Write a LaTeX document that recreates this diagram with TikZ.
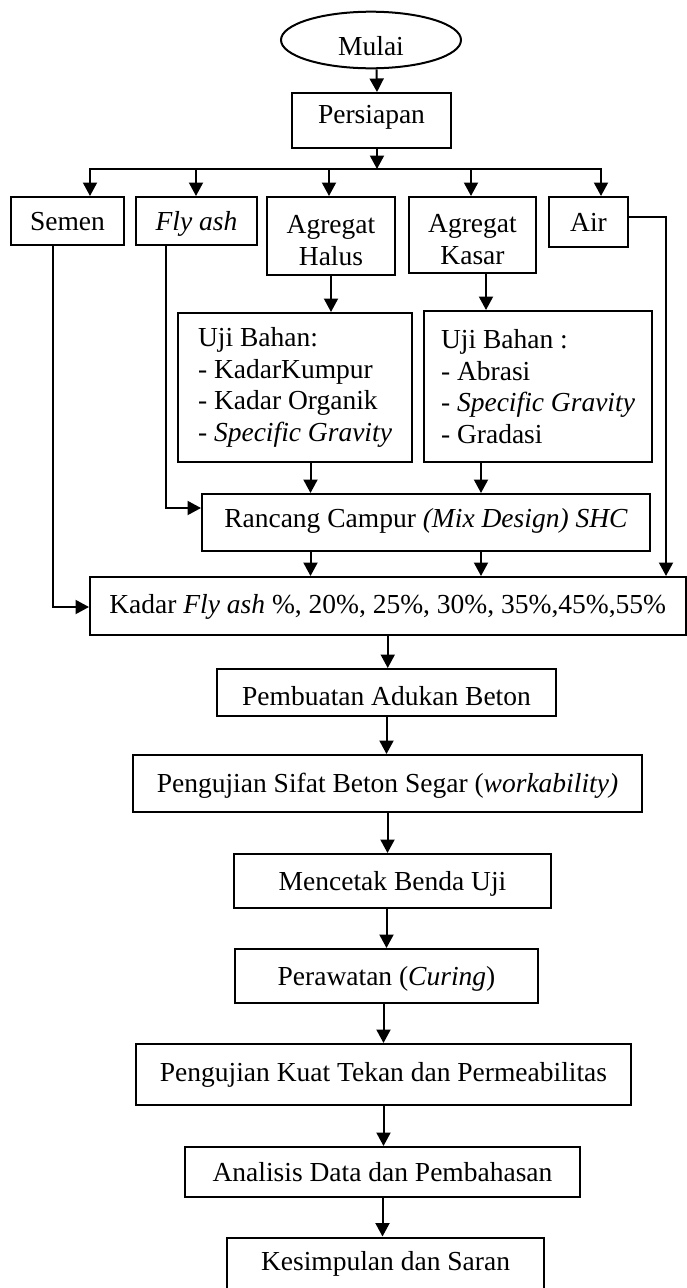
\documentclass[tikz,border=0pt]{standalone}
\usepackage{fontspec}
\setmainfont{Liberation Serif}
\usetikzlibrary{arrows.meta,shapes.geometric}
\begin{document}
\begin{tikzpicture}[x=1pt,y=-1pt,
  frame/.style={draw, line width=2pt, rectangle, inner sep=0pt, font=\fontsize{27.5}{31.7}\selectfont},
  onebox/.style={frame, text height=18.2pt, text depth=0pt},
  arr/.style={line width=2pt, -{Triangle[length=13.5pt,width=14pt]}},
  ln/.style={line width=2pt}]
\useasboundingbox (0,0) rectangle (686,1288);
% nodes
\node[draw, ellipse, line width=2pt, minimum width=180pt, minimum height=56.6pt, inner sep=0pt,
      font=\fontsize{27.5}{31.7}\selectfont, text height=31.6pt, text depth=0pt] (mulai) at (371,40) {Mulai};
\node[onebox, minimum width=159pt, minimum height=55pt, text depth=12pt] (persiapan) at (371.5,120.5) {Persiapan};
\node[onebox, minimum width=113pt, minimum height=48pt] (semen) at (67.5,221) {Semen};
\node[onebox, minimum width=121pt, minimum height=48pt] (flyash) at (196.5,221) {\textit{Fly ash}};
\node[frame, align=center, minimum width=128pt, minimum height=78pt] (halus) at (331,236) {\rule{0pt}{27pt}Agregat\\Halus};
\node[frame, align=center, minimum width=127pt, minimum height=76pt] (kasar) at (472.5,235) {\rule{0pt}{27pt}Agregat\\Kasar};
\node[onebox, minimum width=79pt, minimum height=50pt] (air) at (588.5,222) {Air};
\node[frame, align=left, minimum width=234pt, minimum height=149pt] (uji1) at (295,387.5)
  {Uji Bahan:\\- KadarKumpur\\- Kadar Organik\\- \textit{Specific Gravity}};
\node[frame, align=left, minimum width=228pt, minimum height=151pt] (uji2) at (538,386.5)
  {Uji Bahan :\\- Abrasi\\- \textit{Specific Gravity}\\- Gradasi};
\node[onebox, text depth=7.4pt, minimum width=448pt, minimum height=57pt] (rancang) at (426,522.5)
  {Rancang Campur \textit{(Mix Design) SHC}};
\node[onebox, text depth=3.6pt, minimum width=595.5pt, minimum height=58pt] (kadar) at (387.75,606)
  {Kadar \textit{Fly ash} \%, 20\%, 25\%, 30\%, 35\%,45\%,55\%};
\node[onebox, text height=25.8pt, minimum width=339pt, minimum height=47pt] (pemb) at (386.5,692.5)
  {Pembuatan Adukan Beton};
\node[onebox, minimum width=509pt, minimum height=57pt] (sifat) at (387.5,783.5)
  {Pengujian Sifat Beton Segar (\textit{workability)}};
\node[onebox, minimum width=317pt, minimum height=54pt] (mencetak) at (392.5,881) {Mencetak Benda Uji};
\node[onebox, minimum width=303pt, minimum height=54pt] (perawatan) at (386.5,976) {Perawatan (\textit{Curing})};
\node[onebox, text depth=5pt, minimum width=495pt, minimum height=61pt] (kuat) at (383.5,1074.5)
  {Pengujian Kuat Tekan dan Permeabilitas};
\node[onebox, minimum width=395pt, minimum height=50pt] (analisis) at (382.5,1172) {Analisis Data dan Pembahasan};
\node[onebox, text depth=5pt, minimum width=317pt, minimum height=53pt] (kesimpulan) at (385.5,1264) {Kesimpulan dan Saran};
% coordinates
\coordinate (bus) at (377,169);
\coordinate (b1) at (90,169);
\coordinate (b2) at (196,169);
\coordinate (b3) at (329,169);
\coordinate (b4) at (471,169);
\coordinate (b5) at (601,169);
\coordinate (airc) at (666,217);
\coordinate (semc) at (52.5,607);
\coordinate (flyc) at (166,508);
\coordinate (kx) at (486,0);
\coordinate (c1) at (310.5,0);
\coordinate (c2) at (481,0);
% connectors
\draw[arr] ([xshift=5.5pt]mulai.south) -- ([xshift=5.5pt]persiapan.north);
\draw[arr] ([xshift=5.5pt]persiapan.south) -- (bus);
\draw[ln, line cap=rect] (b1) -- (b5);
\draw[arr] (b1) -- (b1 |- semen.north);
\draw[arr] (b2) -- (b2 |- flyash.north);
\draw[arr] (b3) -- (b3 |- halus.north);
\draw[arr] (b4) -- (b4 |- kasar.north);
\draw[arr] (b5) -- (b5 |- air.north);
\draw[arr] (air.east |- airc) -- (airc) -- (airc |- kadar.north);
\draw[arr] (semc |- semen.south) -- (semc) -- (semc -| kadar.west);
\draw[arr] (flyc |- flyash.south) -- (flyc) -- (flyc -| rancang.west);
\draw[arr] (halus.south) -- (halus.south |- uji1.north);
\draw[arr] (kx |- kasar.south) -- (kx |- uji2.north);
\draw[arr] (c1 |- uji1.south) -- (c1 |- rancang.north);
\draw[arr] (c2 |- uji2.south) -- (c2 |- rancang.north);
\draw[arr] (c1 |- rancang.south) -- (c1 |- kadar.north);
\draw[arr] (c2 |- rancang.south) -- (c2 |- kadar.north);
\draw[arr] (kadar.south) -- (kadar.south |- pemb.north);
\draw[arr] (pemb.south) -- (pemb.south |- sifat.north);
\draw[arr] (sifat.south) -- (sifat.south |- mencetak.north);
\draw[arr] (perawatan.north |- mencetak.south) -- (perawatan.north);
\draw[arr] (kuat.north |- perawatan.south) -- (kuat.north);
\draw[arr] (kuat.south) -- (kuat.south |- analisis.north);
\draw[arr] (analisis.south) -- (analisis.south |- kesimpulan.north);
\end{tikzpicture}
\end{document}
